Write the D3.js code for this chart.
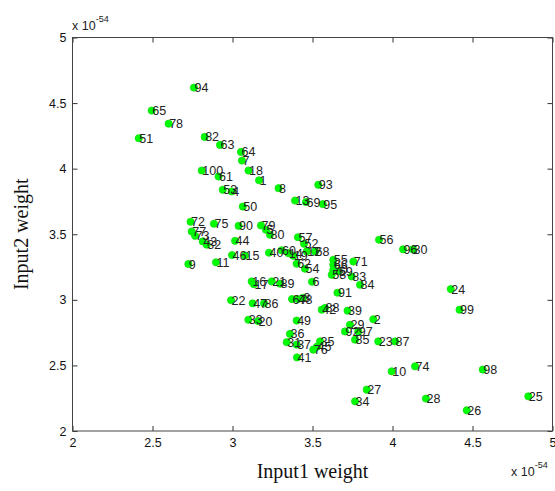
<!DOCTYPE html>
<html>
<head>
<meta charset="utf-8">
<script src="https://cdn.jsdelivr.net/npm/d3@7"></script>
<style>
  body { margin: 0; background: #fff; }
  svg text { font-family: "Liberation Sans", Arial, sans-serif; }
</style>
</head>
<body>
<svg id="chart" width="555" height="491"></svg>
<script>
// point labels (sample index), input1 weight and input2 weight (x 1e-54)
var labels = [94, 65, 78, 51, 82, 63, 64, 7, 100, 61,
              18, 1, 8, 53, 4, 93, 13, 69, 95, 50,
              72, 75, 90, 79, 5, 80, 77, 73, 43, 32,
              44, 9, 11, 46, 15, 40, 60, 14, 57, 52,
              68, 12, 62, 19, 54, 6, 56, 96, 30, 55,
              71, 66, 70, 58, 59, 83, 84, 91, 24, 99,
              67, 48, 3, 42, 88, 39, 2, 49, 16, 17,
              21, 89, 22, 47, 86, 33, 20, 36, 31, 37,
              41, 29, 92, 97, 85, 23, 87, 35, 45, 76,
              10, 74, 27, 34, 28, 98, 25, 26];
var input1 = [2.759, 2.495, 2.601, 2.414, 2.826, 2.922, 3.053, 3.059, 2.808, 2.913,
              3.100, 3.166, 3.288, 2.939, 2.995, 3.536, 3.391, 3.459, 3.564, 3.064,
              2.738, 2.884, 3.038, 3.178, 3.209, 3.234, 2.745, 2.766, 2.814, 2.839,
              3.016, 2.724, 2.897, 2.997, 3.078, 3.228, 3.307, 3.349, 3.409, 3.447,
              3.516, 3.464, 3.401, 3.380, 3.453, 3.497, 3.916, 4.066, 4.128, 3.630,
              3.755, 3.630, 3.630, 3.620, 3.661, 3.745, 3.797, 3.656, 4.364, 4.419,
              3.372, 3.409, 3.441, 3.558, 3.578, 3.719, 3.880, 3.401, 3.120, 3.134,
              3.245, 3.297, 2.991, 3.126, 3.197, 3.099, 3.159, 3.359, 3.339, 3.401,
              3.403, 3.734, 3.703, 3.786, 3.766, 3.911, 4.016, 3.547, 3.528, 3.505,
              3.995, 4.141, 3.839, 3.766, 4.209, 4.564, 4.849, 4.464];
var input2 = [4.618, 4.443, 4.343, 4.232, 4.242, 4.181, 4.128, 4.062, 3.986, 3.940,
              3.986, 3.911, 3.851, 3.839, 3.826, 3.877, 3.757, 3.745, 3.730, 3.711,
              3.595, 3.580, 3.564, 3.567, 3.534, 3.496, 3.521, 3.488, 3.445, 3.420,
              3.450, 3.273, 3.286, 3.341, 3.338, 3.359, 3.378, 3.356, 3.477, 3.427,
              3.369, 3.369, 3.275, 3.336, 3.237, 3.138, 3.458, 3.385, 3.385, 3.305,
              3.292, 3.267, 3.229, 3.191, 3.216, 3.178, 3.115, 3.054, 3.082, 2.925,
              3.006, 3.006, 3.016, 2.925, 2.938, 2.917, 2.852, 2.842, 3.140, 3.119,
              3.140, 3.123, 2.997, 2.973, 2.973, 2.848, 2.838, 2.740, 2.677, 2.658,
              2.561, 2.810, 2.759, 2.759, 2.696, 2.683, 2.683, 2.683, 2.643, 2.620,
              2.455, 2.493, 2.315, 2.226, 2.247, 2.468, 2.264, 2.158];
var tickVals = [2, 2.5, 3, 3.5, 4, 4.5, 5];

var svg = d3.select("#chart");
var plotL = 72.5, plotR = 552.5, plotT = 37.5, plotB = 431;

var x = d3.scaleLinear().domain([2, 5]).range([plotL, plotR]);
var y = d3.scaleLinear().domain([2, 5]).range([plotB, plotT]);

var points = labels.map(function(l, i) {
  return { label: l, a: input1[i], b: input2[i] };
});

// axes, ticks point inwards like matlab
function styleAxis(g) {
  g.attr("font-family", null);
  g.select(".domain").remove();
  g.selectAll(".tick line").attr("stroke", "#333");
  g.selectAll(".tick text").attr("fill", "#111").style("font-size", "12.5px");
}

svg.append("g")
  .attr("transform", "translate(0," + plotB + ")")
  .call(d3.axisBottom(x).tickValues(tickVals).tickSizeInner(-5).tickSizeOuter(0)
        .tickPadding(7).tickFormat(d3.format("")))
  .call(styleAxis);

svg.append("g")
  .attr("transform", "translate(" + plotL + ",0)")
  .call(d3.axisLeft(y).tickValues(tickVals).tickSizeInner(-5).tickSizeOuter(0)
        .tickPadding(6).tickFormat(d3.format("")))
  .call(styleAxis);

svg.append("g")
  .attr("transform", "translate(0," + plotT + ")")
  .call(d3.axisTop(x).tickValues(tickVals).tickSizeInner(-5).tickSizeOuter(0).tickFormat(""))
  .call(styleAxis);

svg.append("g")
  .attr("transform", "translate(" + plotR + ",0)")
  .call(d3.axisRight(y).tickValues(tickVals).tickSizeInner(-5).tickSizeOuter(0).tickFormat(""))
  .call(styleAxis);

svg.append("rect")
  .attr("x", plotL).attr("y", plotT)
  .attr("width", plotR - plotL).attr("height", plotB - plotT)
  .attr("fill", "none").attr("stroke", "#444").attr("stroke-width", 1);

// dots
svg.append("g").selectAll("circle")
  .data(points)
  .enter().append("circle")
  .attr("cx", function(d) { return x(d.a); })
  .attr("cy", function(d) { return y(d.b); })
  .attr("r", 3.6)
  .attr("fill", "#00ff00")
  .attr("stroke", "#10e010")
  .attr("stroke-width", 0.8);

// index labels
svg.append("g").selectAll("text")
  .data(points)
  .enter().append("text")
  .attr("x", function(d) { return x(d.a) + 0.5; })
  .attr("y", function(d) { return y(d.b); })
  .attr("dy", "0.36em")
  .attr("fill", "#222")
  .style("font-size", "12.5px")
  .text(function(d) { return d.label; });

// exponent notes
function expo(xp, yp) {
  var t = svg.append("text").attr("x", xp).attr("y", yp)
    .attr("fill", "#222").style("font-size", "12.5px");
  t.append("tspan").text("x 10");
  t.append("tspan").attr("dy", -8).style("font-size", "9px").text("-54");
}
expo(72, 30);
expo(511, 476);

// axis titles
svg.append("text")
  .attr("x", (plotL + plotR) / 2).attr("y", 478)
  .attr("text-anchor", "middle")
  .style("font-family", "'Liberation Serif', 'Times New Roman', serif")
  .style("font-size", "20px")
  .attr("fill", "#111")
  .text("Input1 weight");

svg.append("text")
  .attr("transform", "translate(28," + ((plotT + plotB) / 2) + ") rotate(-90)")
  .attr("text-anchor", "middle")
  .style("font-family", "'Liberation Serif', 'Times New Roman', serif")
  .style("font-size", "20px")
  .attr("fill", "#111")
  .text("Input2 weight");
</script>
</body>
</html>
